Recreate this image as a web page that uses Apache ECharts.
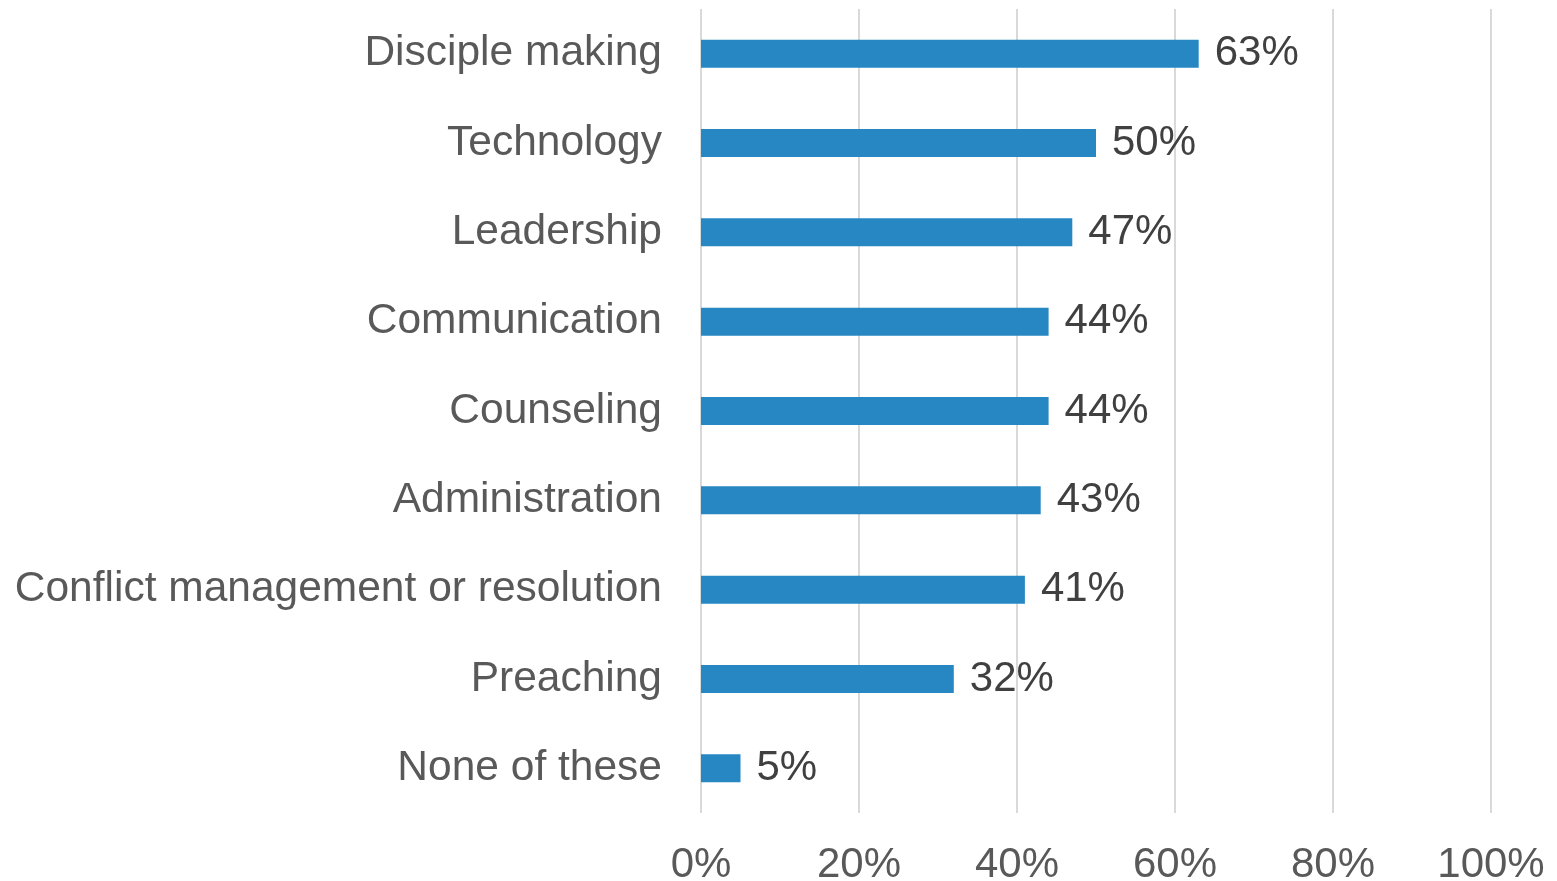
<!DOCTYPE html>
<html><head><meta charset="utf-8">
<script src="https://cdn.jsdelivr.net/npm/echarts@6/dist/echarts.min.js"></script>
<style>html,body{margin:0;padding:0;background:#fff;overflow:hidden}#c{width:1557px;height:881px}</style>
</head><body><div id="c"></div>
<script>
const categories = ["Disciple making","Technology","Leadership","Communication","Counseling","Administration","Conflict management or resolution","Preaching","None of these"];
const values = [63,50,47,44,44,43,41,32,5];
const xTicks = [0,20,40,60,80,100];

const chart = echarts.init(document.getElementById('c'), null, {renderer:'canvas'});
chart.setOption({
  animation:false,
  grid:{left:701,right:66,top:9,bottom:68,containLabel:false,outerBoundsMode:'none'},
  xAxis:{type:'value',min:0,max:100,interval:20,
    axisLine:{show:false},axisTick:{show:false},
    splitLine:{lineStyle:{color:'#d9d9d9',width:2}},
    axisLabel:{formatter:v=>v+'%',color:'#595959',fontSize:42,fontFamily:'Liberation Sans',margin:31}},
  yAxis:{type:'category',inverse:true,data:categories,
    axisLine:{show:false},axisTick:{show:false},
    axisLabel:{color:'#595959',fontSize:42.5,fontFamily:'Liberation Sans',margin:39}},
  series:[{type:'bar',data:values,barWidth:28,itemStyle:{color:'#2787C2'},
    label:{show:true,position:'right',distance:16,formatter:p=>p.value+'%',color:'#404040',fontSize:42,fontFamily:'Liberation Sans',padding:[7,0,0,0]}}]
});
</script></body></html>
